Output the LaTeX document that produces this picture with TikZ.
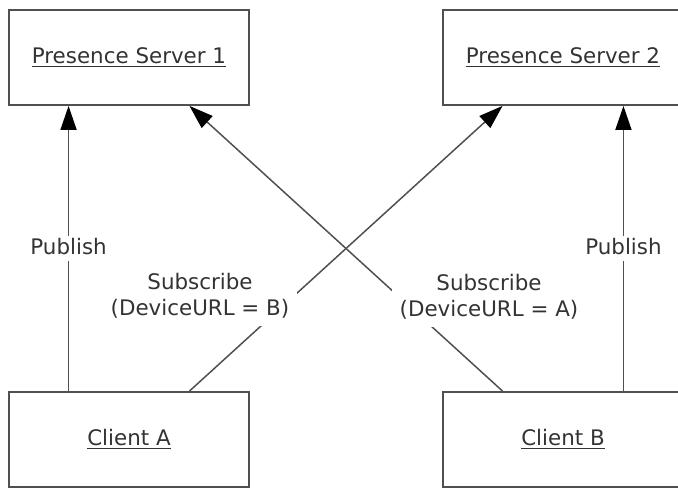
\documentclass[tikz,border=0pt]{standalone}
\usepackage{fontspec}
\setmainfont{DejaVu Sans}
\usetikzlibrary{arrows.meta,calc}
\definecolor{txt}{RGB}{51,51,51}
\definecolor{brd}{RGB}{80,80,80}
\newcommand\myul[1]{\setbox0\hbox{#1}\rlap{\rule[-3.3pt]{\wd0}{1.4pt}}\box0}
\begin{document}
\begin{tikzpicture}[x=1pt,y=-1pt,
  box/.style={draw=brd, line width=1.8pt, minimum width=240pt, minimum height=95pt,
    inner sep=0pt, text=txt, font=\fontsize{21.4}{26}\selectfont},
  arr/.style={draw=brd, line width=1.5pt, -{Triangle[length=24pt,width=16pt,color=black]}},
  lbl/.style={fill=white, text=txt, font=\fontsize{21.4}{25.5}\selectfont, align=center},
  publbl/.style={lbl, inner xsep=3pt, inner ysep=2pt, text height=16.3pt, text depth=5pt}]
\useasboundingbox (0,0) rectangle (678,489);
\node[box] (ps1) at (129,57.5) {\myul{Presence Server 1}};
\node[box] (ps2) at (563,57.5) {\myul{Presence Server 2}};
\node[box] (ca) at (129,439.5) {\myul{Client A}};
\node[box] (cb) at (563,439.5) {\myul{Client B}};
\draw[arr] ($(ca.north west)!0.25!(ca.north east)$) -- node[publbl, pos=0.5] (pubA) {Publish} ($(ps1.south west)!0.25!(ps1.south east)$);
\draw[arr] ($(cb.north west)!0.75!(cb.north east)$) -- node[publbl, pos=0.5] (pubB) {Publish} ($(ps2.south west)!0.75!(ps2.south east)$);
\draw[arr] ($(ca.north west)!0.75!(ca.north east)$) -- ($(ps2.south west)!0.25!(ps2.south east)$);
\draw[arr] ($(cb.north west)!0.25!(cb.north east)$) -- ($(ps1.south west)!0.75!(ps1.south east)$);
\node[lbl, inner sep=8pt] (subB) at (200,296) {Subscribe\\(DeviceURL = B)};
\node[lbl, inner sep=8pt] (subA) at (489,297) {Subscribe\\(DeviceURL = A)};
\end{tikzpicture}
\end{document}
